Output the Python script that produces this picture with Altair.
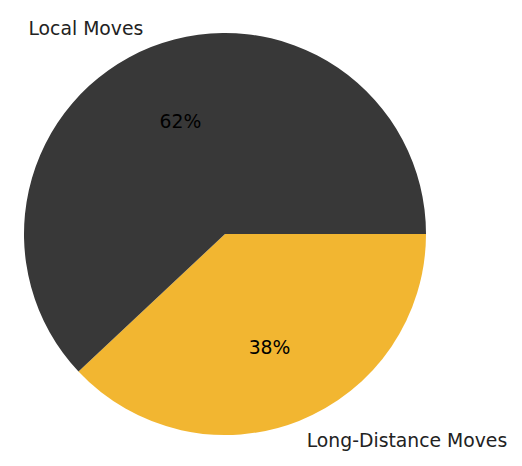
import math
import altair as alt
import pandas as pd

categories = ["Long-Distance Moves", "Local Moves"]
shares = [38, 62]
pct_labels = ["38%", "62%"]
colors = ["#F2B631", "#383838"]
order_idx = [0, 1]
label_align = ["left", "right"]

df = pd.DataFrame({
    "category": categories,
    "share": shares,
    "pct": pct_labels,
    "ord": order_idx,
    "align": label_align,
})

theta_scale = alt.Scale(domain=[0, 100], range=[math.pi / 2, math.pi / 2 + 2 * math.pi])

base = alt.Chart(df).transform_stack(
    stack="share", groupby=[], as_=["s0", "s1"], sort=[alt.SortField("ord", order="ascending")]
).transform_calculate(mid="(datum.s0 + datum.s1) / 2")

arcs = base.mark_arc(outerRadius=201).encode(
    theta=alt.Theta("s0:Q", scale=theta_scale),
    theta2="s1:Q",
    color=alt.Color("category:N", scale=alt.Scale(domain=categories, range=colors), legend=None),
)

mid_theta = alt.Theta("mid:Q", scale=theta_scale)
FS = 18.8

pcts = base.mark_text(font="DejaVu Sans", fontSize=FS, color="#000000",
                      align="center", baseline="middle", dy=1).encode(
    theta=mid_theta, text="pct:N", radius=alt.value(121)
)

lab_left = base.transform_filter(alt.datum.align == "left").mark_text(
    font="DejaVu Sans", fontSize=FS, color="#222222", align="left", baseline="middle", dy=1
).encode(theta=mid_theta, text="category:N", radius=alt.value(222))

lab_right = base.transform_filter(alt.datum.align == "right").mark_text(
    font="DejaVu Sans", fontSize=FS, color="#222222", align="right", baseline="middle", dy=1
).encode(theta=mid_theta, text="category:N", radius=alt.value(222))

chart = alt.layer(arcs, pcts, lab_left, lab_right).properties(
    width=434, height=452, padding=0
).configure_view(stroke=None)

chart.save("out.html", embed_options={"renderer": "svg", "actions": False})
